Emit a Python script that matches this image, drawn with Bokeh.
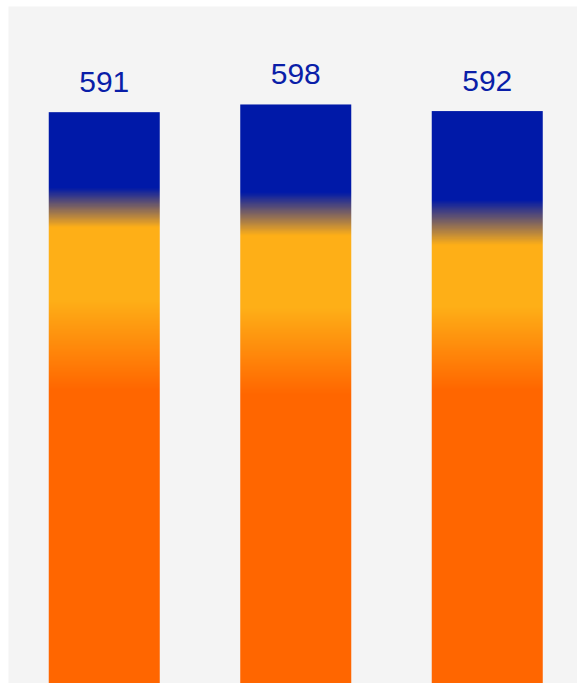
import numpy as np
from bokeh.plotting import figure
from bokeh.models import Range1d
from bokeh.core.properties import value
from bokeh.embed import file_html
from bokeh.resources import INLINE

# ---- data ----
categories = ["A", "B", "C"]
totals = [591, 598, 592]
# gradient stop values (data units) for each bar
blue_solid_to = [522, 518, 511]
yellow_solid_from = [486, 479, 470]
yellow_solid_to = [420, 413, 414]
orange_solid_from = [338, 334, 338]
labels = [str(t) for t in totals]

BLUE = (0, 25, 168)
YELLOW = (254, 175, 23)
ORANGE = (255, 102, 0)

p = figure(width=577, height=683, output_backend="svg", toolbar_location=None,
           x_axis_type=None, y_axis_type=None,
           x_range=Range1d(-0.5, -0.5 + 569 / 191.5),
           y_range=Range1d(72, 687),
           min_border_left=8, min_border_top=6, min_border_right=0, min_border_bottom=0)
p.background_fill_color = "#f4f4f4"
p.border_fill_color = "white"
p.outline_line_color = None
p.grid.visible = False

bw = 111 / 191.5
for i, tot in enumerate(totals):
    n = int(tot * 2)
    vals = np.linspace(0, tot, n)
    stops_v = [0, orange_solid_from[i], yellow_solid_to[i], yellow_solid_from[i], blue_solid_to[i], tot]
    stops_c = [ORANGE, ORANGE, YELLOW, YELLOW, BLUE, BLUE]
    chans = []
    for ch in range(3):
        chans.append(np.interp(vals, stops_v, [c[ch] for c in stops_c]).round().astype(np.uint32))
    col = (255 << 24) | (chans[2] << 16) | (chans[1] << 8) | chans[0]
    img = np.repeat(col[:, None], 4, axis=1).astype(np.uint32)
    p.image_rgba(image=[img], x=i - bw / 2, y=0, dw=bw, dh=tot)

p.text(x=list(range(len(totals))), y=totals, text=labels,
       text_align="center", text_baseline="alphabetic", y_offset=-30,
       text_font=value("Liberation Sans"), text_font_size="30px",
       text_color="#0A1EA8")

open("out.html", "w").write(file_html(p, INLINE))
